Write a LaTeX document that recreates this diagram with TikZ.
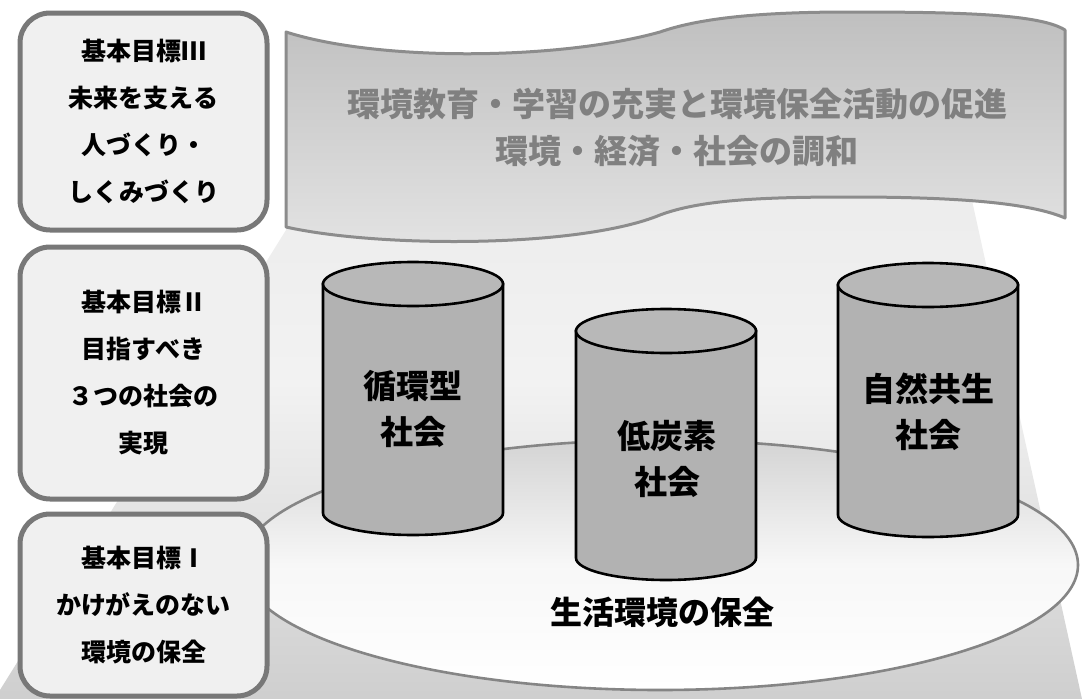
\documentclass[tikz,border=0pt]{standalone}
\usepackage{fontspec}
\setmainfont{Noto Sans CJK JP}
\begin{document}
\begin{tikzpicture}[x=1pt,y=-1pt,
  goalbox/.style={draw=black!53, line width=5pt, fill=black!6, rounded corners=30pt,
     minimum width=247pt, align=center, inner sep=0pt,
     font=\bfseries\fontsize{25}{47}\selectfont},
  canbody/.style={draw=black, line width=2.6pt, fill=black!30},
  cantop/.style={draw=black, line width=2.6pt, fill=black!28},
  cantext/.style={align=center, font=\bfseries\fontsize{33}{46}\selectfont},
  bannertext/.style={align=center, text=black!50, font=\bfseries\fontsize{33}{47}\selectfont}]
\useasboundingbox (0,0) rectangle (1082,699);
% background beam
\path[top color=black!9, bottom color=black!19, middle color=black!5]
  (286,60) -- (941,60) -- (1082,699) -- (0,699) -- (0,690) -- (286,230) -- cycle;
% banner
\path[draw=black!45, line width=3pt, top color=black!25, bottom color=black!11, line join=round]
  (286,32) .. controls (380,62) and (560,60) .. (660,32)
  .. controls (700,18) and (760,12) .. (850,12)
  .. controls (960,12) and (1040,14) .. (1065,30)
  -- (1065,218)
  .. controls (1030,203) and (960,197) .. (850,197)
  .. controls (760,197) and (700,200) .. (660,215)
  .. controls (580,248) and (380,248) .. (286,227) -- cycle;
\node[bannertext] (banner) at (677,128) {環境教育・学習の充実と環境保全活動の促進\\環境・経済・社会の調和};
% base ellipse
\path[draw=black!48, line width=2.6pt, top color=black!17, bottom color=white, middle color=black!3]
  (660,565) ellipse [x radius=418pt, y radius=125pt];
\node[font=\bfseries\fontsize{32}{40}\selectfont] (base) at (662,612) {生活環境の保全};
% cylinders
\newcommand{\drawcan}[3]{%
  \path[canbody] (#1-90,#2) -- (#1-90,#3)
     arc[start angle=180, end angle=360, x radius=90pt, y radius=22pt]
     -- (#1+90,#2) -- cycle;
  \path[cantop] (#1,#2) ellipse [x radius=90pt, y radius=22pt];}
\drawcan{413}{284}{513}
\drawcan{666}{331}{558}
\drawcan{928}{285}{515}
\node[cantext] (c1) at (413,409) {循環型\\社会};
\node[cantext] (c2) at (667,459) {低炭素\\社会};
\node[cantext] (c3) at (928,412) {自然共生\\社会};
% goal boxes
\node[goalbox, minimum height=217pt] (g3) at (143.5,121.5) {基本目標Ⅲ\\未来を支える\\人づくり・\\しくみづくり};
\node[goalbox, minimum height=252pt] (g2) at (143.5,373) {基本目標Ⅱ\\目指すべき\\３つの社会の\\実現};
\node[goalbox, minimum height=182pt] (g1) at (143.5,605) {基本目標Ⅰ\\かけがえのない\\環境の保全};
\end{tikzpicture}
\end{document}
